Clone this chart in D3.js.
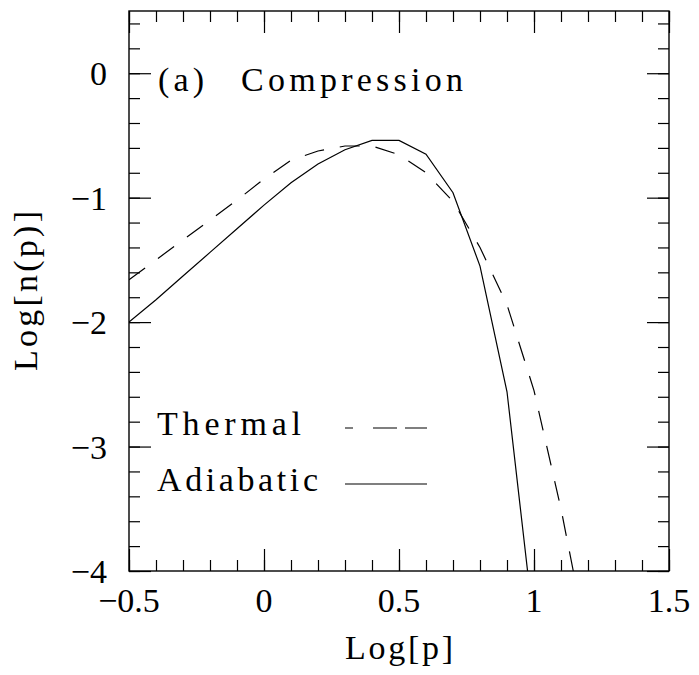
<!DOCTYPE html>
<html>
<head>
<meta charset="utf-8">
<script src="https://cdn.jsdelivr.net/npm/d3@7"></script>
<style>
  body { margin: 0; background: #fff; }
</style>
</head>
<body>
<div id="chart-container"></div>
<script>
// log p grid (one value every 0.1)
const logPAdiabatic = [-0.5, -0.4, -0.3, -0.2, -0.1, 0, 0.1, 0.2, 0.3, 0.4, 0.5, 0.6, 0.7, 0.8, 0.9, 1.0];
const logNAdiabatic = [-2.0, -1.82, -1.63, -1.44, -1.25, -1.06, -0.88, -0.73, -0.615, -0.54, -0.54, -0.65, -0.96, -1.55, -2.56, -4.45];

const logPThermal = [-0.5, -0.4, -0.3, -0.2, -0.1, 0, 0.1, 0.2, 0.3, 0.4, 0.5, 0.6, 0.7, 0.8, 0.9, 1.0, 1.1, 1.2];
const logNThermal = [-1.66, -1.5, -1.34, -1.18, -1.02, -0.85, -0.7, -0.625, -0.585, -0.585, -0.655, -0.8, -1.03, -1.4, -1.86, -2.55, -3.5, -4.6];

const xTicks = [-0.5, 0, 0.5, 1, 1.5];
const xTickLabels = ["\u22120.5", "0", "0.5", "1", "1.5"];
const yTicks = [0, -1, -2, -3, -4];
const yTickLabels = ["0", "\u22121", "\u22122", "\u22123", "\u22124"];
const seriesNames = ["Thermal", "Adiabatic"];

const width = 699;
const height = 675;
const margin = { top: 11, right: 30, bottom: 104, left: 129 };
const serif = "'Liberation Serif', 'Times New Roman', 'DejaVu Serif', serif";

const svg = d3
  .select("#chart-container")
  .append("svg")
  .attr("width", width)
  .attr("height", height)
  .attr("font-family", serif);

const x = d3.scaleLinear().domain([-0.5, 1.5]).range([margin.left, width - margin.right]);
const y = d3.scaleLinear().domain([-4, 0.5]).range([height - margin.bottom, margin.top]);

const plotW = x.range()[1] - x.range()[0];
const plotH = y.range()[0] - y.range()[1];

svg.append("clipPath")
  .attr("id", "plot-clip")
  .append("rect")
  .attr("x", margin.left)
  .attr("y", margin.top)
  .attr("width", plotW)
  .attr("height", plotH);

// minor ticks, every 0.1 in x and 0.2 in y, drawn inward on all four sides
const xMinor = d3.range(-5, 16).map((i) => i / 10);
const yMinor = d3.range(-20, 3).map((i) => i / 5);

function styleAxis(g) {
  g.select(".domain").remove();
  g.selectAll("line").attr("stroke", "#000").attr("stroke-width", 1.2);
}

const axes = [
  [d3.axisBottom(x), `translate(0,${y.range()[0]})`, xMinor, xTicks],
  [d3.axisTop(x), `translate(0,${margin.top})`, xMinor, xTicks],
  [d3.axisLeft(y), `translate(${margin.left},0)`, yMinor, yTicks],
  [d3.axisRight(y), `translate(${x.range()[1]},0)`, yMinor, yTicks],
];

axes.forEach(([axis, tr, minor, major]) => {
  svg.append("g")
    .attr("transform", tr)
    .call(axis.tickValues(minor).tickSize(-11).tickFormat(""))
    .call(styleAxis);
  svg.append("g")
    .attr("transform", tr)
    .call(axis.tickValues(major).tickSize(-22).tickFormat(""))
    .call(styleAxis);
});

// tick labels
svg.append("g")
  .selectAll("text")
  .data(xTicks)
  .join("text")
  .attr("x", (d) => x(d))
  .attr("y", y.range()[0] + 41)
  .attr("text-anchor", "middle")
  .attr("font-family", serif)
  .attr("font-size", 34)
  .text((d, i) => xTickLabels[i]);

svg.append("g")
  .selectAll("text")
  .data(yTicks)
  .join("text")
  .attr("x", margin.left - 22)
  .attr("y", (d) => y(d) + 12)
  .attr("text-anchor", "end")
  .attr("font-family", serif)
  .attr("font-size", 34)
  .text((d, i) => yTickLabels[i]);

// frame
svg.append("rect")
  .attr("x", margin.left)
  .attr("y", margin.top)
  .attr("width", plotW)
  .attr("height", plotH)
  .attr("fill", "none")
  .attr("stroke", "#000")
  .attr("stroke-width", 1.4);

// curves
const line = d3.line().x((d) => x(d[0])).y((d) => y(d[1]));

svg.append("path")
  .datum(logPThermal.map((p, i) => [p, logNThermal[i]]))
  .attr("clip-path", "url(#plot-clip)")
  .attr("d", line)
  .attr("fill", "none")
  .attr("stroke", "#000")
  .attr("stroke-width", 1.2)
  .attr("stroke-dasharray", "20,16");

svg.append("path")
  .datum(logPAdiabatic.map((p, i) => [p, logNAdiabatic[i]]))
  .attr("clip-path", "url(#plot-clip)")
  .attr("d", line)
  .attr("fill", "none")
  .attr("stroke", "#000")
  .attr("stroke-width", 1.2);

// labels
function label(txt, px, py, len, anchor) {
  return svg.append("text")
    .attr("x", px)
    .attr("y", py)
    .attr("text-anchor", anchor || "start")
    .attr("textLength", len)
    .attr("font-family", serif)
    .attr("font-size", 34)
    .text(txt);
}

label("(a)", 158, 91, 46);
label("Compression", 241, 91, 222);
label("Log[p]", 399, 659, 108, "middle");
label("Log[n(p)]", 0, 0, 160, "middle")
  .attr("transform", `translate(37, ${(y.range()[0] + y.range()[1]) / 2}) rotate(-90)`);

// legend
const legendY = [435, 491];
const legendLen = [144, 161];
const legend = svg.append("g");

legend.selectAll("text")
  .data(seriesNames)
  .join("text")
  .attr("x", 157)
  .attr("y", (d, i) => legendY[i])
  .attr("textLength", (d, i) => legendLen[i])
  .attr("font-family", serif)
  .attr("font-size", 34)
  .text((d) => d);

legend.selectAll("line")
  .data(seriesNames)
  .join("line")
  .attr("x1", 345)
  .attr("x2", 427)
  .attr("y1", (d, i) => legendY[i] - 7)
  .attr("y2", (d, i) => legendY[i] - 7)
  .attr("stroke", "#000")
  .attr("stroke-width", 1.2)
  .attr("stroke-dasharray", (d, i) => (i === 0 ? "8,20,24,8,22" : null));
</script>
</body>
</html>
